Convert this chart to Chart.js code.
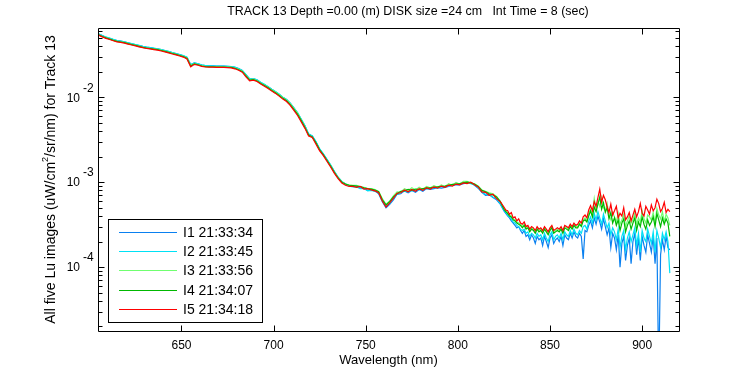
<!DOCTYPE html>
<html><head><meta charset="utf-8">
<script src="https://cdn.jsdelivr.net/npm/chart.js@4/dist/chart.umd.min.js"></script>
<style>html,body{margin:0;padding:0;background:#fff;}canvas{display:block}</style>
</head><body>
<canvas id="c" width="750" height="375"></canvas>
<script>
// ---- DATA (values in units of 1e-4 uW/cm^2/sr/nm) ----
const wavelengths = [
605,607,609,611,613,615,617,619,621,623,
625,627,629,631,633,635,637,639,641,643,
645,647,649,651,653,655,657,659,661,663,
665,667,669,671,673,675,677,679,681,683,
685,687,689,691,693,695,697,699,701,703,
705,707,709,711,713,715,717,719,721,723,
725,727,729,731,733,735,737,739,741,743,
745,747,749,751,753,755,757,759,761,763,
765,767,769,771,773,775,777,779,781,783,
785,787,789,791,793,795,797,799,801,803,
805,807,809,811,813,815,817,819,821,823,
825,826,827,828,829,830,831,832,833,834,
835,836,837,838,839,840,841,842,843,844,
845,846,847,848,849,850,851,852,853,854,
855,856,857,858,859,860,861,862,863,864,
865,866,867,868,869,870,871,872,873,874,
875,876,877,878,879,880,881,882,883,884,
885,886,887,888,889,890,891,892,893,894,
895,896,897,898,899,900,901,902,903,904,
905,906,907,908,909,910,911,912,913,914,915];

const valueUnit = 1e-4;

const luI1 = [
556,531,509,495,478,463,457,449,437,426,
416,406,396,388,383,377,372,363,354,345,
335,326,317,308,294,243,253,247,239,235,
234,234,233,232,232,231,230,225,217,206,
184,164,166,159,149,141,133,124,116,108,
100,94,85,75,65,55,46,37,35,29.6,
24.5,21.4,18.4,15.8,13.3,11.4,10.2,9.5,9.2,9.1,
9.1,8.6,8.5,8.0,8.1,7.9,7.3,5.9,5.0,5.5,
6.2,7.2,7.3,7.9,7.5,8.0,7.6,8.2,7.8,8.4,
8.2,8.4,8.6,8.5,8.7,8.9,9.2,9.3,9.3,9.6,
9.8,9.9,9.2,8.5,7.6,7.0,7.1,6.6,6.2,5.5,
4.6,4.3,4.0,3.8,3.5,3.3,3.1,2.9,3.0,2.7,
2.5,2.7,2.3,2.4,2.1,2.4,2.2,1.9,2.3,2.1,
2.2,1.8,2.3,2.0,1.7,2.2,2.4,1.9,2.1,2.2,
2.0,2.3,1.8,2.4,2.2,2.1,2.5,2.2,2.6,2.3,
2.2,2.5,2.3,1.25,2.7,2.6,3.1,3.5,2.9,3.8,
3.2,4.0,3.4,2.8,3.7,3.0,2.4,2.9,1.7,2.5,
2.2,1.6,2.4,1.0,1.9,2.3,1.2,1.8,2.2,1.1,
2.0,2.5,1.4,2.2,1.2,2.3,1.8,1.5,2.4,1.9,
1.5,2.3,1.1,2.2,0.05,1.4,2.1,1.6,2.3,1.7,1.6];

const luI2 = [
558,533,511,496,479,465,458,450,438,427,
417,407,397,389,384,378,372,364,355,346,
336,327,318,309,295,241,254,248,240,236,
235,234,233,233,232,231,230,226,217,207,
185,164,166,160,150,142,133,124,117,109,
100,94,85,75,66,55,46,37,35,30,
24.6,21.5,18.4,15.9,13.3,11.5,10.2,9.4,9.0,8.8,
8.8,8.4,8.4,7.9,8.0,7.8,7.4,6.0,5.2,5.6,
6.5,7.2,7.5,7.9,7.7,8.0,7.9,8.2,8.1,8.4,
8.4,8.7,8.5,8.9,8.8,9.1,9.1,9.5,9.4,9.8,
10.1,9.6,9.3,8.6,7.7,7.2,7.2,6.7,6.4,5.6,
4.7,4.4,4.1,3.9,3.7,3.4,3.3,3.1,3.0,2.8,
2.7,2.8,2.5,2.6,2.3,2.5,2.4,2.2,2.5,2.3,
2.4,2.1,2.5,2.2,2.0,2.4,2.6,2.1,2.3,2.4,
2.2,2.5,2.1,2.6,2.4,2.3,2.7,2.4,2.8,2.5,
2.4,2.7,2.5,3.0,3.1,2.8,3.5,3.9,3.3,4.3,
3.6,4.5,3.8,3.2,4.2,3.5,2.9,3.3,2.4,2.9,
2.6,2.1,2.8,1.7,2.3,2.7,1.6,2.2,2.6,2.0,
2.4,2.9,1.8,2.5,1.5,2.7,2.2,2.0,2.8,2.3,
1.9,2.6,1.5,2.7,2.2,1.7,2.5,2.1,2.6,2.0,0.85];

const luI3 = [
548,522,503,487,470,457,450,442,430,420,
410,400,390,382,376,371,366,358,349,340,
330,321,312,304,290,238,249,243,235,231,
230,230,229,229,228,227,226,221,213,203,
181,161,163,157,147,139,131,122,115,107,
99,93,84,74,65,54,45,36,34,29,
24,21,18,15.6,13.1,11.3,10.1,9.5,9.3,9.2,
9.2,8.9,8.7,8.4,8.4,8.2,7.8,6.4,5.5,6.0,
6.9,7.7,7.6,8.4,8.0,8.6,8.1,8.7,8.2,8.9,
8.6,9.1,8.7,9.3,8.9,9.6,9.2,9.9,9.5,10.2,
10.2,9.9,9.6,9.0,8.1,7.8,7.5,7.3,6.8,6.0,
4.9,4.6,4.3,4.1,4.0,3.7,3.6,3.4,3.3,3.2,
3.0,3.2,2.9,3.0,2.7,2.9,2.8,2.6,2.9,2.7,
2.8,2.6,2.9,2.7,2.5,2.8,3.0,2.6,2.7,2.8,
2.7,2.9,2.6,3.0,2.9,2.8,3.1,2.9,3.2,3.0,
3.0,3.3,3.1,3.6,3.8,3.5,4.3,4.8,4.2,6.4,
4.7,5.9,5.2,6.6,5.0,4.6,5.6,4.1,3.6,4.4,
3.9,3.4,4.3,3.2,3.6,4.2,3.0,3.5,4.0,3.3,
3.6,4.3,3.2,3.8,3.4,4.6,3.7,3.3,4.1,3.9,
3.6,4.4,3.3,4.9,4.1,3.7,4.5,3.4,4.2,3.8,3.1];

const luI4 = [
545,519,499,484,467,454,447,439,427,417,
407,397,387,379,374,369,363,355,346,337,
327,319,310,301,286,233,247,241,233,229,
228,228,227,227,226,225,224,219,211,200,
178,159,161,155,145,137,129,120,113,105,
97,91,82,72,63,53,44,36,34,29,
24,21,18,15.4,13.0,11.2,10.0,9.5,9.2,9.1,
9.0,8.9,8.6,8.4,8.3,8.1,7.7,6.2,5.4,5.9,
6.7,7.3,7.8,7.9,8.2,8.0,8.3,8.2,8.4,8.5,
8.6,8.7,8.8,8.9,9.0,9.2,9.4,9.5,9.6,9.8,
10.0,9.8,9.5,8.9,8.0,7.7,7.3,7.1,6.7,5.9,
4.8,4.5,4.3,4.0,3.9,3.6,3.5,3.3,3.2,3.1,
2.9,3.1,2.8,2.9,2.6,2.8,2.7,2.5,2.8,2.6,
2.7,2.5,2.8,2.6,2.4,2.7,2.9,2.5,2.6,2.7,
2.6,2.8,2.5,2.9,2.8,2.7,3.0,2.8,3.1,2.9,
2.9,3.2,3.0,3.5,3.6,3.4,4.0,4.6,3.9,5.1,
4.5,5.5,6.7,4.8,5.7,4.4,5.0,3.7,4.4,3.3,
3.8,3.1,3.6,2.7,3.3,3.7,2.6,3.1,3.5,2.8,
3.3,3.8,2.7,3.4,3.0,3.9,3.2,2.8,3.6,3.1,
3.4,3.9,3.0,4.3,3.6,3.0,3.8,3.2,3.7,3.3,2.3];

const luI5 = [
538,514,493,478,462,448,442,433,422,412,
402,392,383,375,370,364,358,350,342,333,
323,315,306,297,282,228,244,238,231,227,
226,226,225,225,224,223,222,216,208,197,
174,156,159,153,143,135,127,118,111,103,
95,89,80,70,61,51,43,35,33.5,28,
23.3,20.5,17.5,15.0,12.7,11.0,9.8,9.2,8.9,8.9,
8.7,8.9,8.3,8.4,8.1,7.9,7.5,6.0,5.1,5.7,
6.5,7.4,7.5,8.1,7.7,8.2,7.8,8.4,8.0,8.6,
8.3,8.8,8.5,9.0,8.7,9.2,9.0,9.5,9.3,9.8,
9.6,10.0,9.3,8.8,7.7,7.6,7.0,7.2,6.4,5.9,
5.1,4.7,4.6,4.2,4.4,3.8,3.9,3.5,3.7,3.3,
3.2,3.4,3.0,3.1,2.8,3.0,2.9,2.7,3.0,2.8,
2.9,2.7,3.0,2.8,2.6,2.9,3.1,2.7,2.8,2.9,
2.8,3.0,2.7,3.1,3.0,2.9,3.2,3.0,3.3,3.1,
3.2,3.5,3.3,3.9,4.1,3.8,4.7,5.3,4.6,5.9,
5.2,6.6,8.3,5.8,7.0,6.2,5.1,4.4,5.5,4.1,
4.6,5.2,3.8,4.3,4.0,5.0,3.6,3.9,4.4,3.5,
4.1,4.8,3.9,4.5,5.6,4.3,4.0,5.2,4.7,4.2,
5.4,4.6,5.0,6.3,5.6,4.5,4.9,5.8,4.4,4.8,4.5];

const seriesLabels = ['I1 21:33:34','I2 21:33:45','I3 21:33:56','I4 21:34:07','I5 21:34:18'];
const seriesValues = [luI1, luI2, luI3, luI4, luI5];
const seriesColors = ['#0a80f0','#00e1f5','#70ff70','#00b800','#ff0000'];

const xTicks = [650,700,750,800,850,900];
const yTicks = [1e-2,1e-3,1e-4];
const yTickBase = '10';
const yTickExp = ['-2','-3','-4'];
const xRange = [604.7, 920];
const yRange = [1.77e-5, 0.0653];

const titleText = 'TRACK 13 Depth =0.00 (m) DISK size =24 cm   Int Time = 8 (sec)';
const xTitle = 'Wavelength (nm)';
const yTitleA = 'All five Lu images (uW/cm';
const yTitleSup = '2';
const yTitleB = '/sr/nm) for Track 13';

// ---- CHART ----
const FONT = '"Liberation Sans", Arial, Helvetica, sans-serif';
const datasets = seriesValues.map((vals, i) => ({
  label: seriesLabels[i],
  data: wavelengths.map((w, j) => ({x: w, y: vals[j] * valueUnit})),
  borderColor: seriesColors[i],
  backgroundColor: seriesColors[i],
  borderWidth: 1.2,
  pointRadius: 0,
  tension: 0,
  fill: false,
  order: seriesValues.length - i
}));

const decor = {
  id: 'decor',
  afterDatasetsDraw(chart) {
    const {ctx, chartArea: a, scales: {x, y}} = chart;
    ctx.save();
    ctx.strokeStyle = '#000';
    ctx.fillStyle = '#000';
    ctx.lineWidth = 1;
    const L = Math.round(a.left) + 0.5, R = Math.round(a.right) + 0.5;
    const T = Math.round(a.top) + 0.5, B = Math.round(a.bottom) + 0.5;
    ctx.beginPath();
    ctx.rect(L, T, R - L, B - T);
    xTicks.forEach(t => {
      const px = Math.round(x.getPixelForValue(t)) + 0.5;
      ctx.moveTo(px, B); ctx.lineTo(px, B - 6);
      ctx.moveTo(px, T); ctx.lineTo(px, T + 6);
    });
    for (let e = -6; e <= -1; e++) {
      for (let m = 1; m <= 9; m++) {
        const v = m * Math.pow(10, e);
        if (v < yRange[0] || v > yRange[1]) continue;
        const py = Math.round(y.getPixelForValue(v)) + 0.5;
        const len = m === 1 ? 6 : 4;
        ctx.moveTo(L, py); ctx.lineTo(L + len, py);
        ctx.moveTo(R, py); ctx.lineTo(R - len, py);
      }
    }
    ctx.stroke();

    ctx.font = '12px ' + FONT;
    ctx.textAlign = 'center';
    ctx.textBaseline = 'middle';
    xTicks.forEach(t => ctx.fillText(String(t), x.getPixelForValue(t), a.bottom + 15));
    yTicks.forEach((t, i) => {
      const py = y.getPixelForValue(t);
      ctx.textAlign = 'right';
      ctx.fillText(yTickBase, a.left - 18, py + 1);
      ctx.textAlign = 'left';
      ctx.fillText(yTickExp[i], a.left - 15, py - 9);
    });
    ctx.textAlign = 'center';
    ctx.font = '12.4px ' + FONT;
    ctx.fillText(titleText, 408, 12);
    ctx.font = '13px ' + FONT;
    ctx.fillText(xTitle, (a.left + a.right) / 2, a.bottom + 29);
    // y title rotated
    ctx.save();
    ctx.translate(51, (a.top + a.bottom) / 2);
    ctx.rotate(-Math.PI / 2);
    ctx.font = '14px ' + FONT;
    const wA = ctx.measureText(yTitleA).width;
    const wB = ctx.measureText(yTitleB).width;
    ctx.font = '9px ' + FONT;
    const wS = ctx.measureText(yTitleSup).width;
    const sx = -(wA + wS + wB) / 2;
    ctx.textAlign = 'left';
    ctx.font = '14px ' + FONT;
    ctx.fillText(yTitleA, sx, 0);
    ctx.fillText(yTitleB, sx + wA + wS, 0);
    ctx.font = '9px ' + FONT;
    ctx.fillText(yTitleSup, sx + wA, -5);
    ctx.restore();

    // legend
    const lx = Math.round(a.left) + 10, ly = Math.round(a.bottom) - 112;
    const lw = 154, lh = 103;
    ctx.fillStyle = '#fff';
    ctx.fillRect(lx, ly, lw, lh);
    ctx.strokeStyle = '#000';
    ctx.strokeRect(lx + 0.5, ly + 0.5, lw, lh);
    ctx.font = '14px ' + FONT;
    seriesLabels.forEach((lab, i) => {
      const ry = Math.round(ly + 12.5 + i * 19.4) + 0.5;
      ctx.strokeStyle = seriesColors[i];
      ctx.beginPath();
      ctx.moveTo(lx + 11, ry); ctx.lineTo(lx + 69, ry);
      ctx.stroke();
      ctx.fillStyle = '#000';
      ctx.textAlign = 'left';
      ctx.textBaseline = 'middle';
      ctx.fillText(lab, lx + 75, ry + 1);
    });
    ctx.restore();
  }
};

new Chart(document.getElementById('c'), {
  type: 'line',
  data: {datasets},
  options: {
    responsive: false,
    animation: false,
    devicePixelRatio: 1,
    events: [],
    layout: {padding: {left: 98, top: 28, right: 71, bottom: 44}},
    plugins: {legend: {display: false}, tooltip: {enabled: false}, title: {display: false}},
    scales: {
      x: {type: 'linear', min: xRange[0], max: xRange[1], display: false},
      y: {type: 'logarithmic', min: yRange[0], max: yRange[1], display: false}
    }
  },
  plugins: [decor]
});
</script>
</body></html>
